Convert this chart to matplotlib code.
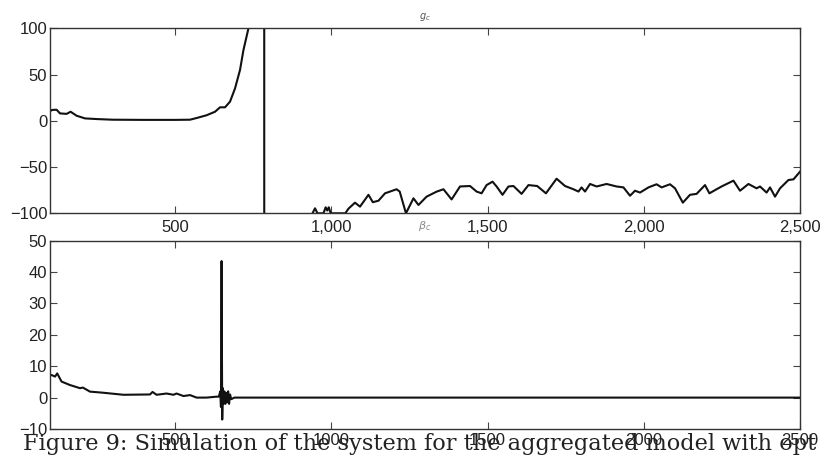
import matplotlib
matplotlib.use("Agg")
import matplotlib.pyplot as plt
from matplotlib.ticker import FuncFormatter, FixedLocator

# ---- data ----
gc_x = [100, 105, 121, 132, 153, 166, 185, 212, 249, 300, 400, 500, 548, 569, 601,
        628, 644, 660, 676, 692, 708, 719, 735, 745, 770, 785, 786, 800, 940, 948,
        956, 975, 982, 987, 992, 998, 1045, 1055, 1076, 1092, 1119, 1133, 1151, 1172,
        1209, 1219, 1239, 1263, 1279, 1305, 1337, 1359, 1385, 1412, 1444, 1465, 1481,
        1497, 1516, 1529, 1548, 1567, 1583, 1609, 1631, 1659, 1687, 1721, 1748, 1775,
        1791, 1801, 1812, 1828, 1849, 1881, 1913, 1935, 1956, 1972, 1988, 2015, 2041,
        2057, 2084, 2100, 2125, 2148, 2169, 2196, 2210, 2233, 2249, 2287, 2308, 2335,
        2361, 2372, 2393, 2404, 2420, 2436, 2463, 2479, 2500]
gc_y = [10, 11.7, 12, 8, 7.5, 9.8, 5.5, 2.6, 1.9, 1.2, 1, 1, 1.2, 3, 6,
        9.8, 14.6, 14.6, 20.7, 35, 55, 76.5, 100, 130, 400, 2000, -2000, -400, -100, -94.6,
        -100, -100, -93.5, -97, -93.5, -100, -100, -95, -88.5, -92.8, -80, -88, -86.4, -78.4,
        -74, -76.5, -100, -83.8, -91, -82, -76.6, -74, -85, -71, -70.5, -76.5, -78.4,
        -69.5, -65.8, -71, -80, -71, -70.5, -79, -69.5, -70.5, -78.4, -62.6, -70.5, -74,
        -76.5, -72, -76.5, -68.3, -71, -68.3, -71, -72, -81, -75.6, -77.6, -72, -68.6,
        -72, -68.6, -73, -88.5, -80, -79, -69.5, -78.4, -74, -71, -64.7, -75.6, -68.3,
        -73, -71, -77.6, -72, -82, -73, -64, -63.3, -55]

bc_x = [100, 105, 116, 123, 137, 164, 196, 205, 228, 265, 335, 420, 428, 441, 473,
        495, 505, 527, 548, 569, 601, 633, 640, 645, 647, 649, 651, 653, 655, 658,
        661, 664, 667, 670, 673, 676, 680, 690, 2500]
bc_y = [7, 7.2, 6.7, 7.7, 5.1, 4, 3, 3.2, 1.9, 1.6, 0.9, 1, 1.8, 0.9, 1.3,
        0.9, 1.3, 0.5, 0.8, 0, 0, 0.3, 0.3, 2, -3, 43.5, -7, 3, -2, 2,
        -2, 1.5, -1.5, 2, -2, 1, -0.5, 0, 0]

x_ticks = [500, 1000, 1500, 2000, 2500]
top_yticks = [-100, -50, 0, 50, 100]
bot_yticks = [-10, 0, 10, 20, 30, 40, 50]
title_text = r"$g_c$"
xlabel_text = r"$\beta_c$"
caption = "Figure 9: Simulation of the system for the aggregated model with opt"

plt.rcParams['font.family'] = ['Liberation Sans', 'DejaVu Sans']
plt.rcParams['axes.unicode_minus'] = True

fig = plt.figure(figsize=(8.24, 4.59), dpi=100)
spine_c = '#333333'

def style(ax):
    for s in ax.spines.values():
        s.set_color(spine_c)
        s.set_linewidth(1.0)
    ax.tick_params(direction='in', length=5, width=0.8, color='#444444',
                   top=True, right=True, labelsize=12, labelcolor='#222222', pad=2)

ax1 = fig.add_axes([0.0607, 0.5353, 0.9102, 0.403])
ax1.plot(gc_x, gc_y, color='#111111', lw=1.5)
ax1.set_xlim(100, 2500)
ax1.set_ylim(-100, 100)
ax1.xaxis.set_major_locator(FixedLocator(x_ticks))
ax1.yaxis.set_major_locator(FixedLocator(top_yticks))
ax1.xaxis.set_major_formatter(FuncFormatter(lambda v, p: f"{int(v):,}"))
style(ax1)
ax1.tick_params(axis='x', pad=5)
ax1.set_title(title_text, fontsize=7, color='#555555', pad=7)
ax1.set_xlabel(xlabel_text, fontsize=8, color='#888888', labelpad=-12)

ax2 = fig.add_axes([0.0607, 0.0654, 0.9102, 0.4102])
ax2.plot(bc_x, bc_y, color='#111111', lw=1.5)
ax2.set_xlim(100, 2500)
ax2.set_ylim(-10, 50)
ax2.xaxis.set_major_locator(FixedLocator(x_ticks))
ax2.yaxis.set_major_locator(FixedLocator(bot_yticks))
ax2.xaxis.set_major_formatter(FuncFormatter(lambda v, p: f"{int(v)}"))
style(ax2)
ax2.tick_params(axis='x', pad=3)

fig.text(23 / 824, 1 - 450 / 459, caption, family='DejaVu Serif', fontsize=16.2,
         color='#222222', ha='left', va='baseline')

fig.savefig('out.png', dpi=100)
